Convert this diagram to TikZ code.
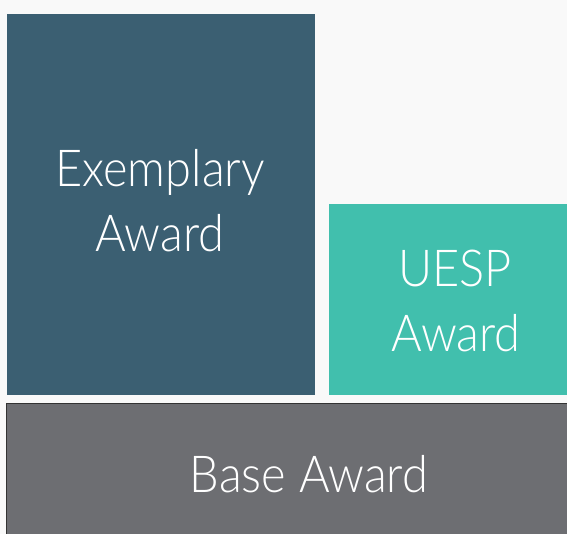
\documentclass[tikz,border=0pt]{standalone}
\usepackage{fontspec}
\setmainfont{Lato}[UprightFont={* Light}]
\definecolor{bgc}{HTML}{F9F9F9}
\definecolor{exc}{HTML}{3B5F72}
\definecolor{uec}{HTML}{41BFAD}
\definecolor{bac}{HTML}{6D6E72}
\definecolor{bdc}{HTML}{333333}
\newcommand{\sqz}[1]{\scalebox{0.92}[1]{#1}}
\tikzset{
  lbl/.style={text=white, align=center, font=\fontsize{51}{65}\selectfont, inner sep=0pt},
}
\begin{document}
\begin{tikzpicture}[x=1pt,y=-1pt]
\useasboundingbox (0,0) rectangle (567,534);
\fill[bgc] (0,0) rectangle (567,534);
\fill[exc] (7,14) rectangle (315,395);
\fill[uec] (329,204) rectangle (567,395);
\fill[bac] (6,403) rectangle (567,534);
\draw[bdc, line width=1.2pt] (6.6,534) -- (6.6,403.6) -- (567,403.6);
\node[lbl, anchor=base] (ex) at (160,187) {\sqz{Exemplary}};
\node[lbl, anchor=base] (exa) at (160,252) {\sqz{Award}};
\node[lbl, anchor=base] (ue) at (455,287) {\sqz{UESP}};
\node[lbl, anchor=base] (uea) at (456,351) {\sqz{Award}};
\node[lbl, anchor=base] (ba) at (309,492) {\sqz{Base Award}};
\end{tikzpicture}
\end{document}
